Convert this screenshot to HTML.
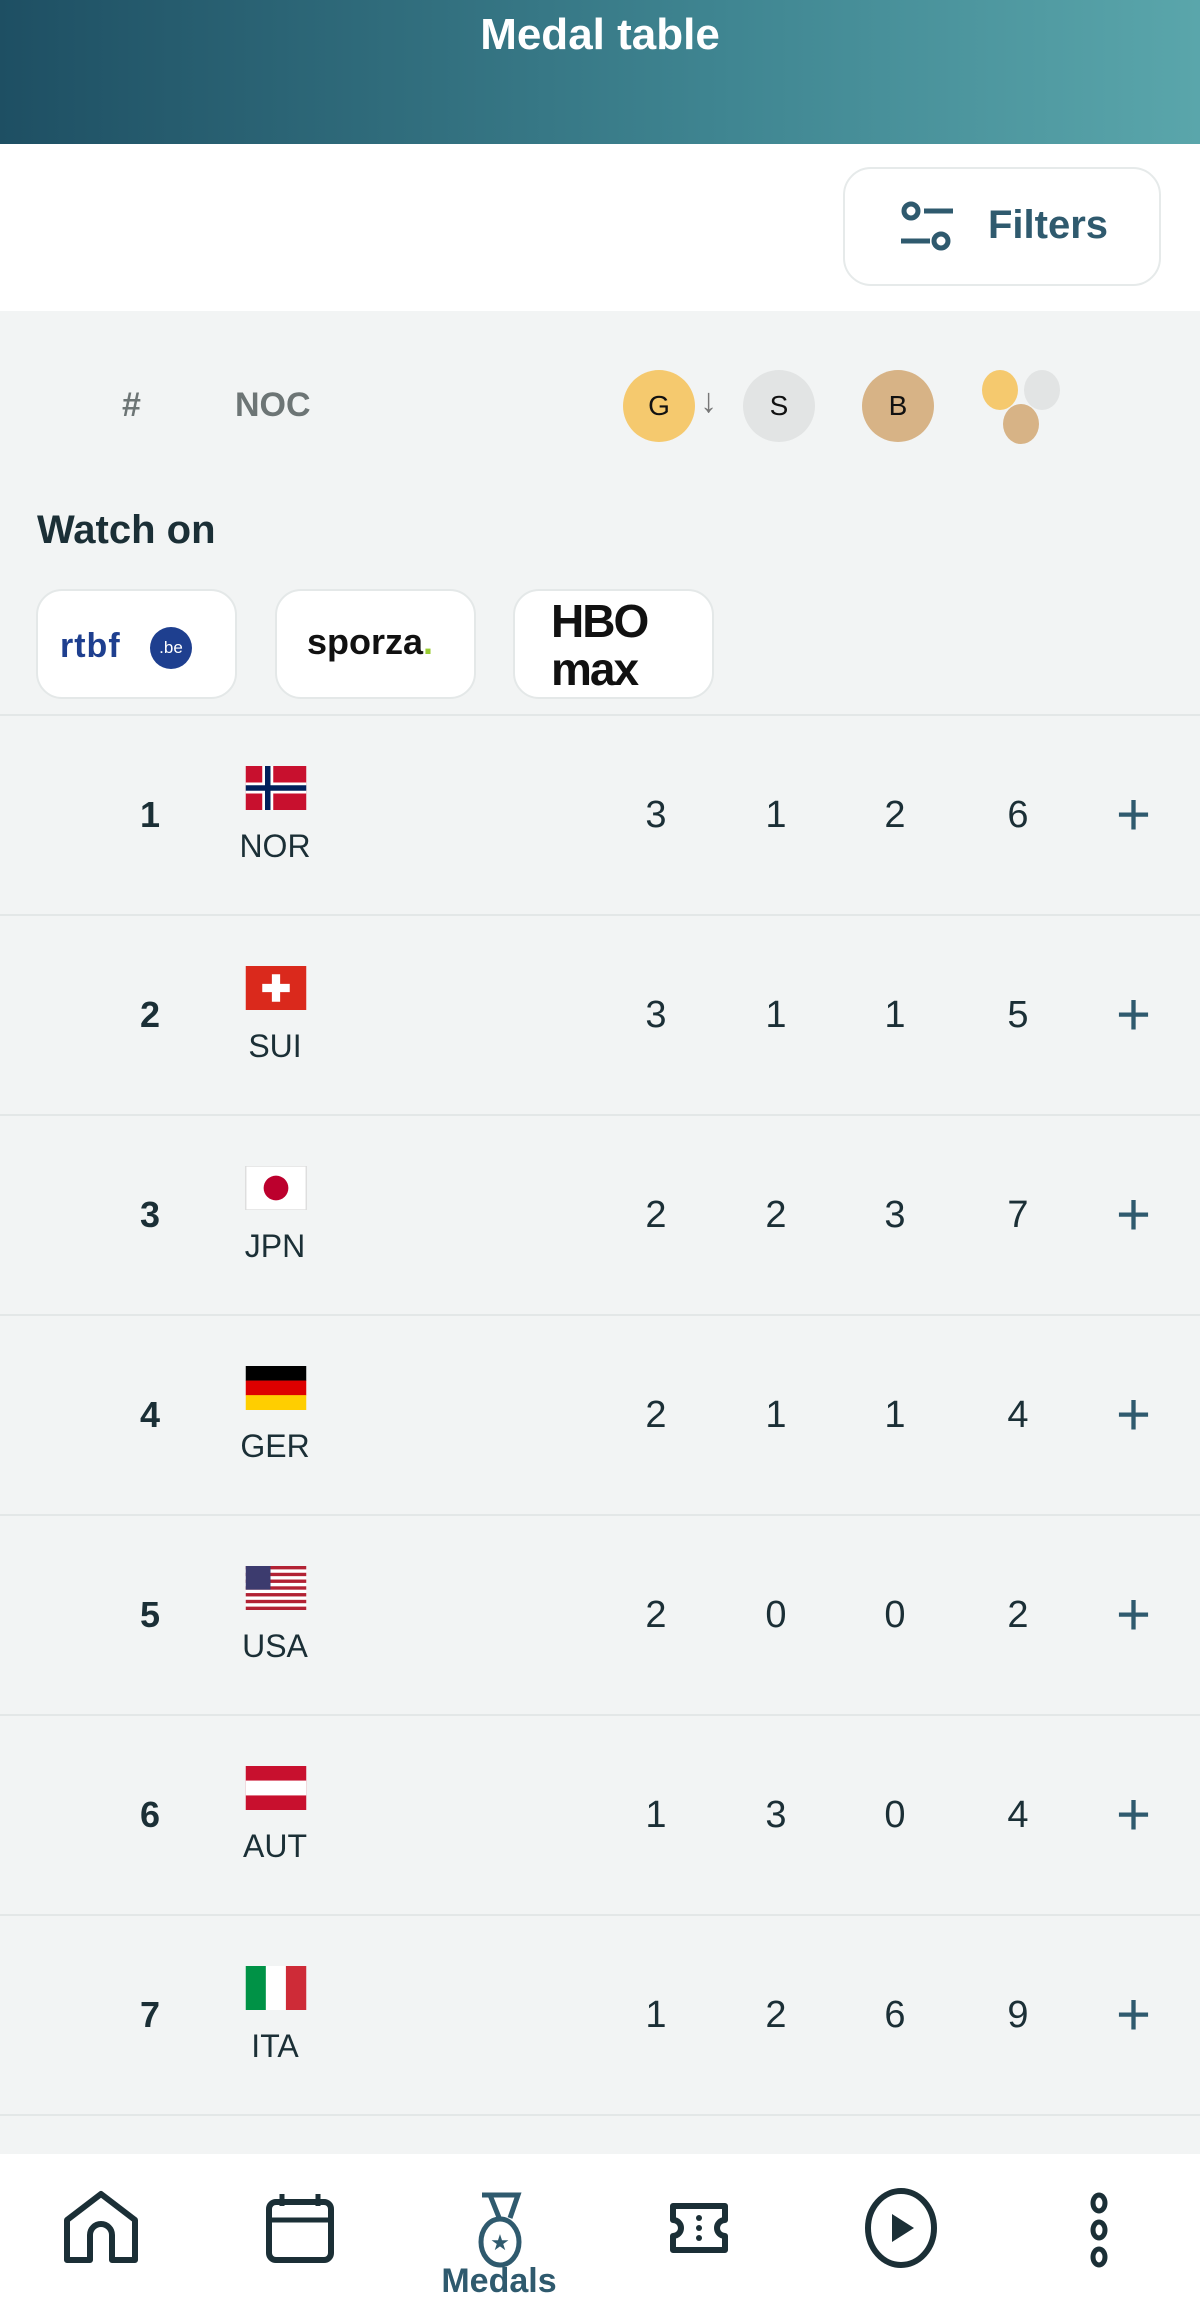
<!DOCTYPE html>
<html><head><meta charset="utf-8"><style>
*{margin:0;padding:0;box-sizing:border-box}
body{width:1200px;height:2322px;overflow:hidden;background:#f2f4f4;font-family:"Liberation Sans",sans-serif;color:#1b2f36;position:relative}
.abs{position:absolute}
.hdr{left:0;top:0;width:1200px;height:144px;background:linear-gradient(90deg,#1e4f63,#3f8591 60%,#5aa6ab)}
.hdr div{position:absolute;left:0;width:1200px;top:10px;text-align:center;color:#fff;font-weight:bold;font-size:44px}
.white{left:0;top:144px;width:1200px;height:167px;background:#fff}
.filt{left:843px;top:167px;width:318px;height:119px;border:2px solid #e6eaea;border-radius:28px;background:#fff}
.filt span{position:absolute;left:143px;top:34px;font-size:40px;font-weight:bold;color:#2f5a6e}
.c{position:absolute;width:72px;height:72px;border-radius:50%;text-align:center;line-height:72px;font-size:28px;color:#111}
.th{font-size:34px;font-weight:bold;color:#6d7575}
.logo{width:201px;height:110px;background:#fff;border:2px solid #e4e8e8;border-radius:26px;top:589px}
.row{left:0;width:1200px;height:200px;border-top:2px solid #e3e7e7}
.row .rk{position:absolute;left:130px;width:40px;text-align:center;top:78px;font-size:36px;font-weight:bold}
.row .cd{position:absolute;left:225px;width:100px;text-align:center;top:112px;font-size:32px}
.row .fl{position:absolute;left:242px;top:50px;width:68px;height:44px;overflow:hidden}
.row .n{position:absolute;width:60px;text-align:center;top:78px;font-size:38px}
.row .pl{position:absolute;left:1116px;top:64px;font-size:60px;color:#2f5a6e;font-weight:300}
.nav{left:0;top:2154px;width:1200px;height:168px;background:#fff}
</style></head><body>
<div class="abs hdr"><div>Medal table</div></div>
<div class="abs white"></div>
<div class="abs filt">
<svg class="abs" style="left:52px;top:30px" width="60" height="56" viewBox="0 0 60 56"><g fill="none" stroke="#2f5a6e" stroke-width="5"><circle cx="14" cy="12" r="7"/><line x1="27" y1="12" x2="56" y2="12"/><circle cx="44" cy="42" r="7"/><line x1="4" y1="42" x2="33" y2="42"/></g></svg>
<span>Filters</span></div>

<div class="abs th" style="left:122px;top:386px">#</div>
<div class="abs th" style="left:235px;top:386px">NOC</div>
<div class="c" style="left:623px;top:370px;background:#f5c96e">G</div>
<div class="abs" style="left:700px;top:382px;font-size:34px;color:#777">↓</div>
<div class="c" style="left:743px;top:370px;background:#e2e4e4">S</div>
<div class="c" style="left:862px;top:370px;background:#d7b386">B</div>
<div class="c" style="left:982px;top:370px;width:36px;height:40px;background:#f5c96e"></div>
<div class="c" style="left:1024px;top:370px;width:36px;height:40px;background:#e2e4e4"></div>
<div class="c" style="left:1003px;top:404px;width:36px;height:40px;background:#d7b386"></div>

<div class="abs" style="left:37px;top:508px;font-size:40px;font-weight:bold;color:#1b2f36">Watch on</div>
<div class="abs logo" style="left:36px"><span class="abs" style="left:22px;top:36px;font-size:34px;font-weight:bold;color:#1e3f8f;letter-spacing:1px">rtbf</span><span class="abs" style="left:112px;top:36px;width:42px;height:42px;border-radius:50%;background:#1e3f8f;color:#fff;font-size:17px;line-height:42px;text-align:center">.be</span></div>
<div class="abs logo" style="left:275px"><span class="abs" style="left:30px;top:30px;font-size:36px;font-weight:bold;color:#111">sporza<span style="color:#9c3">.</span></span></div>
<div class="abs logo" style="left:513px"><span class="abs" style="left:36px;top:6px;font-size:46px;font-weight:900;color:#111;line-height:48px;letter-spacing:-2px">HBO<br>max</span></div>

<div class="abs row" style="top:714px"><div class="rk">1</div>
<svg class="fl" viewBox="0 0 22 16"><rect width="22" height="16" fill="#c8102e"/><rect x="6" width="4" height="16" fill="#fff"/><rect y="6" width="22" height="4" fill="#fff"/><rect x="7" width="2" height="16" fill="#00205b"/><rect y="7" width="22" height="2" fill="#00205b"/></svg>
<div class="cd">NOR</div><div class="n" style="left:626px">3</div><div class="n" style="left:746px">1</div><div class="n" style="left:865px">2</div><div class="n" style="left:988px">6</div><div class="pl">+</div></div>

<div class="abs row" style="top:914px"><div class="rk">2</div>
<svg class="fl" viewBox="0 0 22 16"><rect width="22" height="16" fill="#da291c"/><rect x="9.5" y="3" width="3" height="10" fill="#fff"/><rect x="6" y="6.5" width="10" height="3" fill="#fff"/></svg>
<div class="cd">SUI</div><div class="n" style="left:626px">3</div><div class="n" style="left:746px">1</div><div class="n" style="left:865px">1</div><div class="n" style="left:988px">5</div><div class="pl">+</div></div>

<div class="abs row" style="top:1114px"><div class="rk">3</div>
<svg class="fl" viewBox="0 0 22 16"><rect width="22" height="16" fill="#fff" stroke="#ddd" stroke-width=".5"/><circle cx="11" cy="8" r="4.5" fill="#bc002d"/></svg>
<div class="cd">JPN</div><div class="n" style="left:626px">2</div><div class="n" style="left:746px">2</div><div class="n" style="left:865px">3</div><div class="n" style="left:988px">7</div><div class="pl">+</div></div>

<div class="abs row" style="top:1314px"><div class="rk">4</div>
<svg class="fl" viewBox="0 0 22 16"><rect width="22" height="5.4" fill="#000"/><rect y="5.3" width="22" height="5.4" fill="#dd0000"/><rect y="10.6" width="22" height="5.4" fill="#ffce00"/></svg>
<div class="cd">GER</div><div class="n" style="left:626px">2</div><div class="n" style="left:746px">1</div><div class="n" style="left:865px">1</div><div class="n" style="left:988px">4</div><div class="pl">+</div></div>

<div class="abs row" style="top:1514px"><div class="rk">5</div>
<svg class="fl" viewBox="0 0 22 16"><rect width="22" height="16" fill="#fff"/><g fill="#b22234"><rect y="0" width="22" height="1.23"/><rect y="2.46" width="22" height="1.23"/><rect y="4.92" width="22" height="1.23"/><rect y="7.38" width="22" height="1.23"/><rect y="9.84" width="22" height="1.23"/><rect y="12.3" width="22" height="1.23"/><rect y="14.77" width="22" height="1.23"/></g><rect width="9" height="8.6" fill="#3c3b6e"/></svg>
<div class="cd">USA</div><div class="n" style="left:626px">2</div><div class="n" style="left:746px">0</div><div class="n" style="left:865px">0</div><div class="n" style="left:988px">2</div><div class="pl">+</div></div>

<div class="abs row" style="top:1714px"><div class="rk">6</div>
<svg class="fl" viewBox="0 0 22 16"><rect width="22" height="16" fill="#c8102e"/><rect y="5.3" width="22" height="5.4" fill="#fff"/></svg>
<div class="cd">AUT</div><div class="n" style="left:626px">1</div><div class="n" style="left:746px">3</div><div class="n" style="left:865px">0</div><div class="n" style="left:988px">4</div><div class="pl">+</div></div>

<div class="abs row" style="top:1914px"><div class="rk">7</div>
<svg class="fl" viewBox="0 0 22 16"><rect width="7.4" height="16" fill="#009246"/><rect x="7.3" width="7.4" height="16" fill="#fff"/><rect x="14.6" width="7.4" height="16" fill="#ce2b37"/></svg>
<div class="cd">ITA</div><div class="n" style="left:626px">1</div><div class="n" style="left:746px">2</div><div class="n" style="left:865px">6</div><div class="n" style="left:988px">9</div><div class="pl">+</div></div>
<div class="abs row" style="top:2114px;height:42px"></div>

<div class="abs nav">
<svg class="abs" style="left:64px;top:36px" width="74" height="74" viewBox="0 0 74 74"><path d="M3 30 L37 4 L71 30 V70 H48 V45 A11 11 0 0 0 26 45 V70 H3 Z" fill="none" stroke="#1b2f36" stroke-width="6" stroke-linejoin="round"/></svg>
<svg class="abs" style="left:266px;top:38px" width="68" height="72" viewBox="0 0 68 72"><rect x="3" y="10" width="62" height="58" rx="7" fill="none" stroke="#1b2f36" stroke-width="6"/><line x1="3" y1="28" x2="65" y2="28" stroke="#1b2f36" stroke-width="5"/><line x1="16" y1="2" x2="16" y2="14" stroke="#1b2f36" stroke-width="5"/><line x1="52" y1="2" x2="52" y2="14" stroke="#1b2f36" stroke-width="5"/></svg>
<svg class="abs" style="left:476px;top:38px" width="48" height="76" viewBox="0 0 48 76"><path d="M6 3 H42 L34 26 M14 3 L24 28" fill="none" stroke="#2f5a6e" stroke-width="5"/><ellipse cx="24" cy="50" rx="19" ry="23" fill="none" stroke="#2f5a6e" stroke-width="5"/><text x="24" y="58" text-anchor="middle" font-size="22" fill="#2f5a6e">★</text></svg>
<svg class="abs" style="left:669px;top:46px" width="60" height="56" viewBox="0 0 60 56"><path d="M4 6 H56 V20 A8 8 0 0 0 56 36 V50 H4 V36 A8 8 0 0 0 4 20 Z" fill="none" stroke="#1b2f36" stroke-width="6" stroke-linejoin="round"/><g fill="#1b2f36"><circle cx="30" cy="18" r="3"/><circle cx="30" cy="28" r="3"/><circle cx="30" cy="38" r="3"/></g></svg>
<svg class="abs" style="left:864px;top:34px" width="74" height="80" viewBox="0 0 74 80"><ellipse cx="37" cy="40" rx="33" ry="37" fill="none" stroke="#1b2f36" stroke-width="6"/><path d="M28 26 L50 40 L28 54 Z" fill="#1b2f36"/></svg>
<svg class="abs" style="left:1086px;top:38px" width="26" height="76" viewBox="0 0 26 76"><g fill="none" stroke="#1b2f36" stroke-width="5"><ellipse cx="13" cy="11" rx="6" ry="8"/><ellipse cx="13" cy="38" rx="6" ry="8"/><ellipse cx="13" cy="65" rx="6" ry="8"/></g></svg>
<div class="abs" style="left:399px;width:200px;top:108px;text-align:center;font-size:34px;font-weight:bold;color:#2f5a6e">Medals</div>
</div>
</body></html>
